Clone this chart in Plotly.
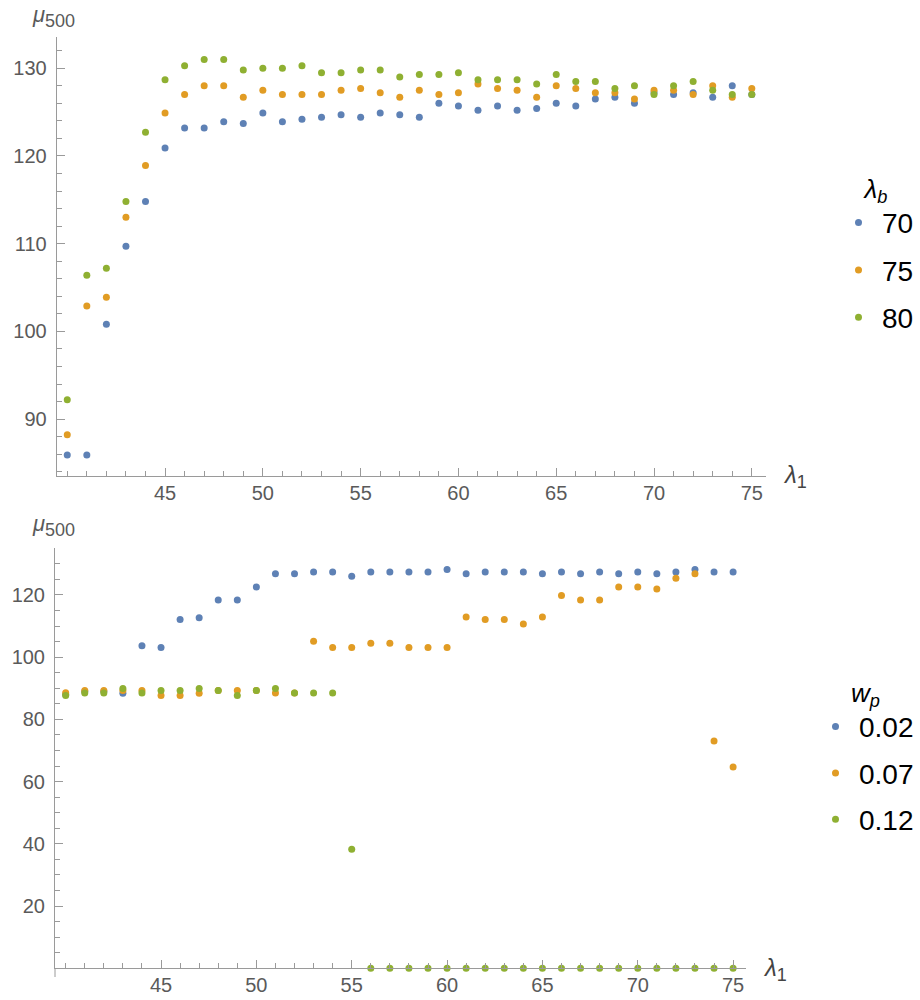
import plotly.graph_objects as go

lam1 = list(range(40, 76))

# top panel: mu500 vs lambda1 for lambda_b = 70, 75, 80
top_names = ["70", "75", "80"]
top_70 = [85.9, 85.9, 100.8, 109.7, 114.8, 120.9, 123.2, 123.2, 123.9, 123.7, 124.9, 123.9,
          124.2, 124.4, 124.7, 124.4, 124.9, 124.7, 124.4, 126.0, 125.7, 125.2, 125.7, 125.2,
          125.4, 126.0, 125.7, 126.5, 126.7, 126.0, 127.2, 127.0, 127.2, 126.7, 128.0, 127.0]
top_75 = [88.2, 102.9, 103.9, 113.0, 118.9, 124.9, 127.0, 128.0, 128.0, 126.7, 127.5, 127.0,
          127.0, 127.0, 127.5, 127.7, 127.2, 126.7, 127.5, 127.0, 127.2, 128.2, 127.7, 127.5,
          126.7, 128.0, 127.7, 127.2, 127.2, 126.5, 127.5, 127.5, 127.0, 128.0, 126.7, 127.7]
top_80 = [92.2, 106.4, 107.2, 114.8, 122.7, 128.7, 130.3, 131.0, 131.0, 129.8, 130.0, 130.0,
          130.3, 129.5, 129.5, 129.8, 129.8, 129.0, 129.3, 129.3, 129.5, 128.7, 128.7, 128.7,
          128.2, 129.3, 128.5, 128.5, 127.7, 128.0, 127.0, 128.0, 128.5, 127.5, 127.0, 127.0]

# bottom panel: mu500 vs lambda1 for w_p = 0.02, 0.07, 0.12
bot_names = ["0.02", "0.07", "0.12"]
bot_002 = [88.0, 89.0, 89.0, 88.4, 103.7, 103.1, 112.1, 112.7, 118.4, 118.4, 122.6, 126.8,
           126.8, 127.4, 127.4, 126.0, 127.4, 127.4, 127.4, 127.4, 128.2, 126.8, 127.4, 127.4,
           127.4, 126.8, 127.4, 126.8, 127.4, 126.8, 127.4, 126.8, 127.4, 128.2, 127.4, 127.4]
bot_007 = [88.6, 89.3, 89.3, 89.3, 89.3, 87.7, 87.7, 88.4, 89.3, 89.3, 89.3, 88.5,
           88.5, 105.1, 103.1, 103.1, 104.5, 104.5, 103.1, 103.1, 103.1, 112.9, 112.1, 112.1,
           110.7, 112.9, 119.8, 118.4, 118.4, 122.6, 122.6, 121.9, 125.4, 126.8, 73.1, 64.7]
bot_012 = [87.7, 88.5, 88.5, 89.9, 88.5, 89.3, 89.3, 89.9, 89.3, 87.7, 89.3, 89.9,
           88.5, 88.5, 88.5, 38.3, 0, 0, 0, 0, 0, 0, 0, 0,
           0, 0, 0, 0, 0, 0, 0, 0, 0, 0, 0, 0]

colors = ["#5E81B5", "#E19C24", "#8FB032"]
W, H = 920, 1000
axis_col = "#9a9a9a"
tick_col = "#5a5a5a"
FONT = "Liberation Sans, Arial, sans-serif"

fig = go.Figure()
for i, (name, ys) in enumerate(zip(top_names, [top_70, top_75, top_80])):
    fig.add_trace(go.Scatter(x=lam1, y=ys, mode="markers", name=name,
                             marker=dict(color=colors[i], size=7),
                             xaxis="x", yaxis="y", legend="legend",
                             legendgroup="t" + name, cliponaxis=False))
for i, (name, ys) in enumerate(zip(bot_names, [bot_002, bot_007, bot_012])):
    fig.add_trace(go.Scatter(x=lam1, y=ys, mode="markers", name=name,
                             marker=dict(color=colors[i], size=7),
                             xaxis="x2", yaxis="y2", legend="legend2",
                             legendgroup="b" + name, cliponaxis=False))

def xax(domain, rng, anchor):
    return dict(domain=domain, range=rng, anchor=anchor, showgrid=False, zeroline=False,
                showline=True, linecolor=axis_col, linewidth=1,
                ticks="inside", ticklen=8, tickcolor=axis_col, tickwidth=1,
                tickvals=[45, 50, 55, 60, 65, 70, 75], ticklabelstandoff=-1,
                tickfont=dict(size=20, color=tick_col, family=FONT),
                minor=dict(dtick=1, tick0=40, ticks="inside", ticklen=5, tickcolor=axis_col))

def yax(domain, rng, anchor, tv, mdt):
    return dict(domain=domain, range=rng, anchor=anchor, showgrid=False, zeroline=False,
                showline=True, linecolor=axis_col, linewidth=1,
                ticks="inside", ticklen=8, tickcolor=axis_col, tickwidth=1,
                tickvals=tv, ticklabelstandoff=5,
                tickfont=dict(size=20, color=tick_col, family=FONT),
                minor=dict(dtick=mdt, tick0=0, ticks="inside", ticklen=5, tickcolor=axis_col))

leg_font = dict(size=28, color="black", family=FONT)
title_font = dict(size=26, color="black", family=FONT)
fig.update_layout(
    width=W, height=H, margin=dict(l=0, r=0, t=0, b=0),
    paper_bgcolor="white", plot_bgcolor="white",
    font=dict(family=FONT),
    xaxis=xax([56.7 / W, 765.7 / W], [39.46, 75.71], "y"),
    yaxis=yax([1 - 476 / H, 1 - 37.3 / H], [83.51, 133.53], "x", [90, 100, 110, 120, 130], 2),
    xaxis2=xax([55 / W, 745.7 / W], [39.44, 75.66], "y2"),
    yaxis2=yax([1 - 968.3 / H, 1 - 548.3 / H], [0, 135], "x2", [20, 40, 60, 80, 100, 120], 5),
    legend=dict(x=835 / W, y=1 - 164 / H, xanchor="left", yanchor="top",
                bgcolor="rgba(0,0,0,0)", traceorder="grouped", tracegroupgap=8,
                itemwidth=37, font=leg_font,
                title=dict(text="<i>λ<sub>b</sub></i>", side="top center", font=title_font)),
    legend2=dict(x=812 / W, y=1 - 668 / H, xanchor="left", yanchor="top",
                 bgcolor="rgba(0,0,0,0)", traceorder="grouped", tracegroupgap=7,
                 itemwidth=37, font=leg_font,
                 title=dict(text="<i>w<sub>p</sub></i>", side="top center", font=title_font)),
    showlegend=True,
)

# small extension of the lower y axis below the zero line
fig.add_shape(type="line", xref="paper", yref="paper",
              x0=55 / W, x1=55 / W, y0=1 - 968.3 / H, y1=1 - 977 / H,
              line=dict(color=axis_col, width=1))

mu_font = dict(size=22, color=tick_col, family=FONT)
lab_mu = "<i>μ</i><sub><span style='font-size:18px'>500</span></sub>"
lab_l1 = "<i>λ</i><sub><span style='font-size:18px'>1</span></sub>"
fig.add_annotation(text=lab_mu, xref="paper", yref="paper", x=30 / W, y=1 - 16 / H,
                   xanchor="left", yanchor="middle", showarrow=False, font=mu_font)
fig.add_annotation(text=lab_l1, xref="paper", yref="paper", x=781 / W, y=1 - 476 / H,
                   xanchor="left", yanchor="middle", showarrow=False,
                   font=dict(size=24, color="#444444", family=FONT))
fig.add_annotation(text=lab_mu, xref="paper", yref="paper", x=30 / W, y=1 - 525 / H,
                   xanchor="left", yanchor="middle", showarrow=False, font=mu_font)
fig.add_annotation(text=lab_l1, xref="paper", yref="paper", x=761 / W, y=1 - 969 / H,
                   xanchor="left", yanchor="middle", showarrow=False,
                   font=dict(size=24, color="#444444", family=FONT))

fig.write_html("out.html", config={"displayModeBar": False},
               post_script="document.body.style.margin='0';")
